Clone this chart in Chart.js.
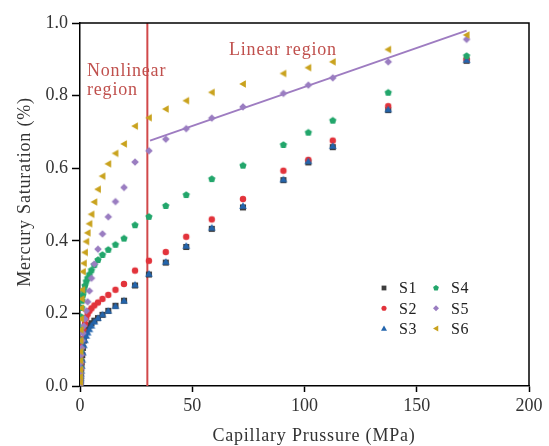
<!DOCTYPE html>
<html>
<head>
<meta charset="utf-8">
<script src="https://cdn.jsdelivr.net/npm/chart.js@4.4.1/dist/chart.umd.min.js"></script>
<style>
  html, body { margin: 0; padding: 0; background: #fff; }
</style>
</head>
<body>
<canvas id="micpChart" width="549" height="446"></canvas>
<script>
// injection pressure steps (MPa), shared by all samples
const pressure = [0.02, 0.04, 0.07, 0.1, 0.14, 0.2, 0.28, 0.4, 0.55, 0.75, 1.0, 1.3, 1.7, 2.2, 2.8, 3.4, 4.2, 5.1, 6.4, 8.0, 10.0, 12.6, 15.8, 19.6, 24.5, 30.7, 38.2, 47.3, 58.7, 72.6, 90.6, 101.7, 112.6, 137.3, 172.2];

// mercury saturation at each step
const satS1 = [0.004, 0.008, 0.012, 0.016, 0.02, 0.026, 0.032, 0.04, 0.05, 0.065, 0.085, 0.105, 0.125, 0.14, 0.152, 0.16, 0.167, 0.173, 0.18, 0.187, 0.196, 0.207, 0.221, 0.235, 0.277, 0.307, 0.34, 0.383, 0.433, 0.492, 0.567, 0.616, 0.658, 0.76, 0.896];
const satS2 = [0.005, 0.01, 0.015, 0.02, 0.026, 0.033, 0.042, 0.055, 0.07, 0.09, 0.11, 0.13, 0.152, 0.172, 0.188, 0.198, 0.207, 0.214, 0.222, 0.23, 0.24, 0.251, 0.265, 0.281, 0.318, 0.345, 0.369, 0.411, 0.459, 0.515, 0.593, 0.623, 0.676, 0.771, 0.9];
const satS3 = [0.003, 0.006, 0.01, 0.014, 0.018, 0.022, 0.028, 0.034, 0.042, 0.055, 0.072, 0.092, 0.112, 0.126, 0.138, 0.147, 0.156, 0.166, 0.177, 0.187, 0.197, 0.207, 0.22, 0.235, 0.279, 0.309, 0.342, 0.386, 0.436, 0.496, 0.569, 0.619, 0.661, 0.762, 0.898];
const satS4 = [0.01, 0.02, 0.035, 0.05, 0.07, 0.095, 0.125, 0.16, 0.19, 0.215, 0.235, 0.25, 0.263, 0.276, 0.288, 0.297, 0.307, 0.319, 0.333, 0.347, 0.361, 0.375, 0.389, 0.406, 0.443, 0.466, 0.496, 0.526, 0.57, 0.607, 0.664, 0.698, 0.731, 0.808, 0.909];
const satS5 = [0.003, 0.007, 0.012, 0.018, 0.025, 0.035, 0.048, 0.065, 0.085, 0.105, 0.125, 0.145, 0.165, 0.185, 0.207, 0.232, 0.262, 0.297, 0.336, 0.377, 0.419, 0.466, 0.508, 0.547, 0.617, 0.648, 0.68, 0.709, 0.738, 0.769, 0.806, 0.829, 0.849, 0.893, 0.955];
const satS6 = [0.01, 0.025, 0.045, 0.07, 0.095, 0.125, 0.155, 0.185, 0.215, 0.24, 0.265, 0.315, 0.338, 0.368, 0.398, 0.422, 0.447, 0.473, 0.507, 0.542, 0.578, 0.612, 0.641, 0.667, 0.716, 0.739, 0.763, 0.786, 0.809, 0.832, 0.861, 0.877, 0.893, 0.927, 0.967];

const sampleNames = ['S1', 'S2', 'S3', 'S4', 'S5', 'S6'];
const sampleSats = [satS1, satS2, satS3, satS4, satS5, satS6];
const sampleColors = ['#3d3d3d', '#e2333b', '#2365ad', '#22a66b', '#9a7dc1', '#c9a21d'];
const sampleShapes = ['square', 'circle', 'triangle', 'pentagon', 'diamond', 'triLeft'];

// linear fit for S5 and the region boundary
const fitX = [31.2, 172.2];
const fitY = [0.676, 0.979];
const boundaryX = [30, 30];
const boundaryY = [0, 1];

const xTicks = [0, 50, 100, 150, 200];
const yTicks = [0, 0.2, 0.4, 0.6, 0.8, 1.0];

const SERIF = '"Liberation Serif", "Times New Roman", serif';
const NOTE_COLOR = '#c0504d';

function shapePath(ctx, shape, x, y, r) {
    ctx.beginPath();
    if (shape === 'circle') {
        ctx.arc(x, y, r * 0.85, 0, Math.PI * 2);
    } else if (shape === 'square') {
        ctx.rect(x - r * 0.8, y - r * 0.8, r * 1.6, r * 1.6);
    } else if (shape === 'triangle') {
        ctx.moveTo(x, y - r);
        ctx.lineTo(x + r, y + r * 0.75);
        ctx.lineTo(x - r, y + r * 0.75);
    } else if (shape === 'triLeft') {
        ctx.moveTo(x - r, y);
        ctx.lineTo(x + r * 0.75, y - r);
        ctx.lineTo(x + r * 0.75, y + r);
    } else if (shape === 'diamond') {
        ctx.moveTo(x, y - r);
        ctx.lineTo(x + r, y);
        ctx.lineTo(x, y + r);
        ctx.lineTo(x - r, y);
    } else if (shape === 'pentagon') {
        for (let i = 0; i < 5; i++) {
            const a = -Math.PI / 2 + i * 2 * Math.PI / 5;
            ctx.lineTo(x + r * Math.cos(a), y + r * Math.sin(a));
        }
    }
    ctx.closePath();
}

function makeMarker(shape, color, r) {
    const c = document.createElement('canvas');
    c.width = 14;
    c.height = 14;
    const g = c.getContext('2d');
    g.fillStyle = color;
    shapePath(g, shape, 7, 7, r);
    g.fill();
    return c;
}

const datasets = sampleNames.map((name, i) => ({
    label: name,
    data: pressure.map((p, k) => ({ x: p, y: sampleSats[i][k] })),
    pointStyle: makeMarker(sampleShapes[i], sampleColors[i], 3.8),
    backgroundColor: sampleColors[i],
    borderColor: sampleColors[i],
    showLine: false,
    order: 6 - i
}));

datasets.push({
    label: 'fit',
    data: fitX.map((x, k) => ({ x: x, y: fitY[k] })),
    showLine: true,
    borderColor: '#9e7cc1',
    borderWidth: 2,
    pointRadius: 0,
    order: 10
});
datasets.push({
    label: 'boundary',
    data: boundaryX.map((x, k) => ({ x: x, y: boundaryY[k] })),
    showLine: true,
    borderColor: '#d1494a',
    borderWidth: 2,
    pointRadius: 0,
    order: 10
});

// frame, region notes, axis titles and the two-column legend
const decorPlugin = {
    id: 'decor',
    afterDatasetsDraw(chart) {
        const { ctx, chartArea: a } = chart;
        ctx.save();
        ctx.strokeStyle = '#000';
        ctx.lineWidth = 1.5;
        ctx.beginPath();
        ctx.moveTo(a.left, a.top);
        ctx.lineTo(a.right, a.top);
        ctx.lineTo(a.right, a.bottom);
        ctx.stroke();

        ctx.letterSpacing = '0.8px';
        ctx.font = '18px ' + SERIF;
        ctx.fillStyle = NOTE_COLOR;
        ctx.textAlign = 'left';
        ctx.textBaseline = 'alphabetic';
        ctx.fillText('Nonlinear', 87, 75.5);
        ctx.fillText('region', 87, 95);
        ctx.fillText('Linear region', 229, 55);

        ctx.fillStyle = '#333';
        ctx.textAlign = 'center';
        ctx.textBaseline = 'middle';
        ctx.fillText('Capillary Prussure (MPa)', 314, 436);
        ctx.save();
        ctx.translate(25, 192);
        ctx.rotate(-Math.PI / 2);
        ctx.fillText('Mercury Saturation (%)', 0, 0);
        ctx.restore();

        ctx.font = '16px ' + SERIF;
        ctx.letterSpacing = '0.5px';
        ctx.textAlign = 'left';
        sampleNames.forEach((name, i) => {
            const col = Math.floor(i / 3);
            const row = i % 3;
            const mx = 384 + col * 52;
            const my = 288 + row * 20.3;
            ctx.fillStyle = sampleColors[i];
            shapePath(ctx, sampleShapes[i], mx, my, 3);
            ctx.fill();
            ctx.fillStyle = '#222';
            ctx.fillText(name, mx + 15, my + 1);
        });
        ctx.restore();
    }
};

new Chart(document.getElementById('micpChart'), {
    type: 'scatter',
    data: { datasets: datasets },
    options: {
        responsive: false,
        animation: false,
        layout: { padding: { top: 23, right: 20, left: 0, bottom: 0 } },
        plugins: {
            legend: { display: false },
            tooltip: { enabled: false }
        },
        scales: {
            x: {
                type: 'linear',
                min: 0,
                max: 200,
                afterBuildTicks: scale => { scale.ticks = xTicks.map(v => ({ value: v })); },
                afterFit: scale => { scale.height = 60; },
                ticks: { color: '#333', font: { family: SERIF, size: 18 }, padding: 3, maxRotation: 0 },
                grid: { drawOnChartArea: false, drawTicks: true, tickLength: 6, tickColor: '#000', tickWidth: 1.5 },
                border: { display: true, color: '#000', width: 1.5 }
            },
            y: {
                type: 'linear',
                min: 0,
                max: 1,
                afterBuildTicks: scale => { scale.ticks = yTicks.map(v => ({ value: v })); },
                afterFit: scale => { scale.width = 80; },
                ticks: { color: '#333', font: { family: SERIF, size: 18 }, padding: 4, callback: v => v.toFixed(1) },
                grid: { drawOnChartArea: false, drawTicks: true, tickLength: 8, tickColor: '#000', tickWidth: 1.5 },
                border: { display: true, color: '#000', width: 1.5 }
            }
        }
    },
    plugins: [decorPlugin]
});
</script>
</body>
</html>
